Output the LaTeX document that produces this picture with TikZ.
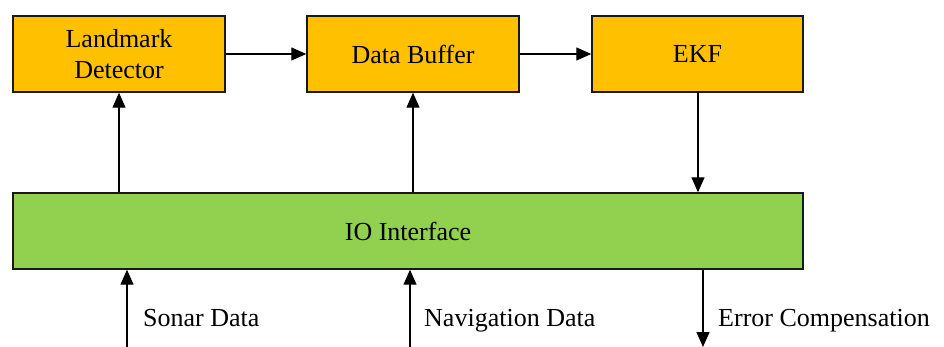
\documentclass[tikz,border=0pt]{standalone}
\usepackage{fontspec}
\setmainfont{Liberation Serif}
\usetikzlibrary{arrows.meta}
\definecolor{blkorange}{HTML}{FFC000}
\definecolor{iogreen}{HTML}{92D050}
\begin{document}
\begin{tikzpicture}[x=1pt,y=-1pt,
  every node/.style={font=\fontsize{26}{31}\selectfont},
  blk/.style={draw=black!90, line width=1.4pt, fill=blkorange, align=center,
    minimum height=76pt, inner sep=0pt},
  iobox/.style={draw=black!90, line width=1.4pt, fill=iogreen,
    minimum width=790pt, minimum height=76pt, inner sep=0pt},
  arr/.style={line width=1.3pt, -{Triangle[length=15pt,width=13pt]}},
  lbl/.style={anchor=base west, inner sep=0pt}]
\useasboundingbox (0,0) rectangle (944,347);

% processing blocks
\node[blk, minimum width=212pt] (lm)  at (119,54)   {Landmark\\Detector};
\node[blk, minimum width=212pt] (db)  at (413,54)   {Data Buffer};
\node[blk, minimum width=211pt] (ekf) at (697.5,54) {EKF};
\node[iobox] (io) at (408,231) {IO Interface};

% block chain
\draw[arr] (lm.east) -- (db.west);
\draw[arr] (db.east) -- (ekf.west);

% interface to blocks
\draw[arr] (lm.south |- io.north) -- (lm.south);
\draw[arr] (db.south |- io.north) -- (db.south);
\coordinate (ekfout) at (698,92);
\draw[arr] (ekfout) -- (ekfout |- io.north);

% external inputs and output
\coordinate (sonar) at (127,347);
\coordinate (nav)   at (410,347);
\coordinate (err)   at (703,347);
\draw[arr] (sonar) -- (sonar |- io.south);
\draw[arr] (nav) -- (nav |- io.south);
\draw[arr] (err |- io.south) -- (err);

\node[lbl] (sonarlbl) at (143,326) {Sonar Data};
\node[lbl] (navlbl)   at (424,326) {Navigation Data};
\node[lbl] (errlbl)   at (718,326) {Error Compensation};
\end{tikzpicture}
\end{document}
